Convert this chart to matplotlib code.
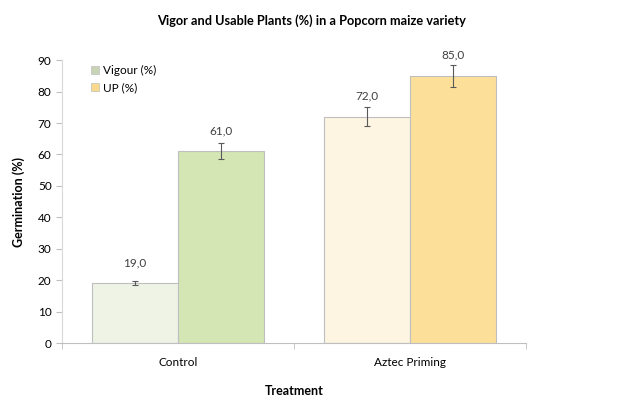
import numpy as np
import matplotlib.pyplot as plt
from matplotlib.patches import Patch

plt.rcParams['font.family'] = ['Lato', 'DejaVu Sans']

# Datos
tratamientos = ["Control", "Aztec Priming"]
vigor = [19.0, 72.0]
vigor_err = [0.7, 3.0]
up = [61.0, 85.0]
up_err = [2.6, 3.4]

col_vigor = ["#EEF3E6", "#FDF4E2"]
col_up = ["#D3E6B3", "#FCE09A"]

fig = plt.figure(figsize=(6.23, 4.01), dpi=100)
ax = fig.add_axes([0.0995, 0.1446, 0.7445, 0.7054])

x = np.arange(len(tratamientos))
w = 0.37

ax.bar(x - w / 2, vigor, w, color=col_vigor, edgecolor="#BFBFBF", linewidth=0.8,
       yerr=vigor_err, error_kw=dict(ecolor="#595959", elinewidth=0.8, capsize=2.5, capthick=0.8))
ax.bar(x + w / 2, up, w, color=col_up, edgecolor="#BFBFBF", linewidth=0.8,
       yerr=up_err, error_kw=dict(ecolor="#595959", elinewidth=0.8, capsize=2.5, capthick=0.8))

# Etiquetas de valores
for xs, vals in [(x - w / 2, vigor), (x + w / 2, up)]:
    for xi, v in zip(xs, vals):
        ax.annotate(f"{v:.1f}".replace(".", ","), (xi, v), xytext=(0, 15),
                    textcoords="offset points", ha="center", va="center",
                    fontsize=8.5, color="#404040")

ax.set_xlim(-0.5, 1.5)
ax.set_ylim(0, 90)
ax.set_yticks(range(0, 91, 10))
ax.set_xticks(x)
ax.set_xticklabels(tratamientos, fontsize=8.5)
ax.set_xticks([-0.5, 0.5, 1.5], minor=True)
ax.tick_params(axis="x", which="major", length=0, pad=10)
ax.tick_params(axis="x", which="minor", length=4, color="#BFBFBF")
ax.tick_params(axis="y", length=4, color="#BFBFBF", labelsize=8.5)

for s in ["top", "right"]:
    ax.spines[s].set_visible(False)
ax.spines["left"].set_color("#D9D9D9")
ax.spines["bottom"].set_color("#BFBFBF")

ax.set_ylabel("Germination (%)", fontsize=9, fontweight="bold", labelpad=9)
ax.set_xlabel("Treatment", fontsize=9, fontweight="bold")
ax.xaxis.set_label_coords(0.5, -0.148)
fig.suptitle("Vigor and Usable Plants (%) in a Popcorn maize variety",
             fontsize=9.2, fontweight="bold", x=0.5, y=0.965)

handles = [Patch(facecolor="#C9D3B5", edgecolor="#BFBFBF", linewidth=0.5, label="Vigour (%)"),
           Patch(facecolor="#FAD98C", edgecolor="#BFBFBF", linewidth=0.5, label="UP (%)")]
ax.legend(handles=handles, loc="upper left", bbox_to_anchor=(0.04, 1.02), frameon=False,
          fontsize=8.5, handlelength=0.7, handleheight=0.7, handletextpad=0.3, labelspacing=0.5)

plt.savefig("out.png", dpi=100)
